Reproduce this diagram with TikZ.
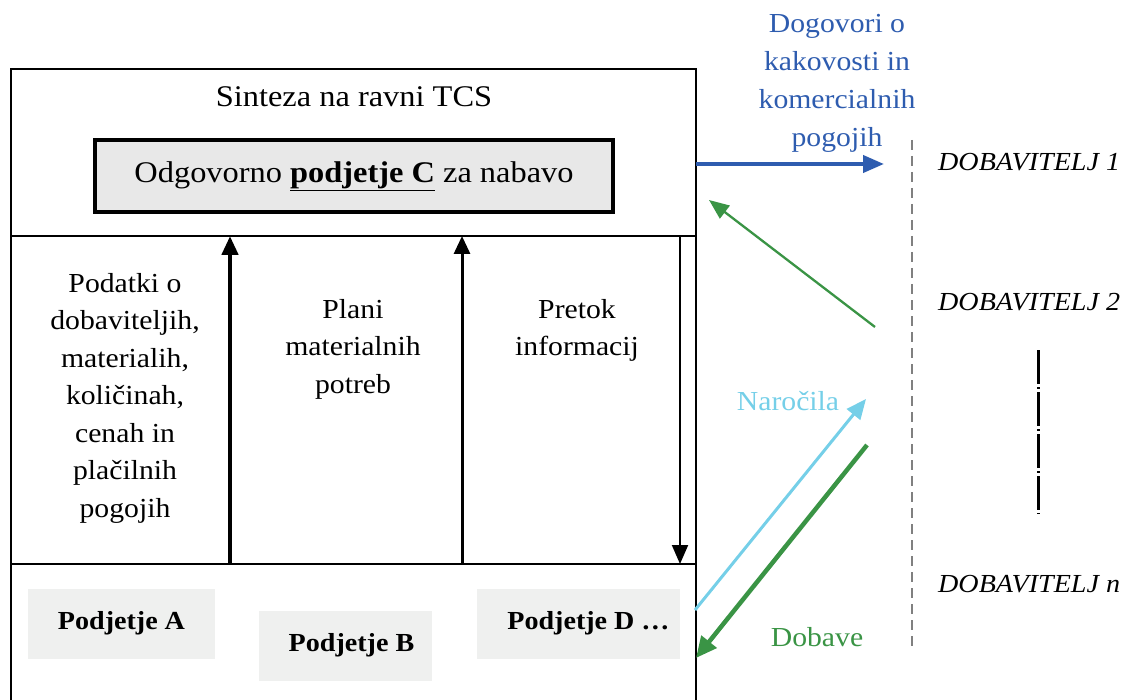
\documentclass[tikz,border=0pt]{standalone}
\usepackage{fontspec}
\setmainfont{Liberation Serif}[FakeStretch=1.08]
\usetikzlibrary{arrows.meta}
\definecolor{dblue}{HTML}{2E5CAF}
\definecolor{lblue}{HTML}{75CFE8}
\definecolor{dgreen}{HTML}{3A9445}
\definecolor{boxgray}{HTML}{E8E8E8}
\definecolor{firmgray}{HTML}{EFF0EF}
\tikzset{
  txt/.style={font=\fontsize{27.5}{37.5}\selectfont, align=center, inner sep=0pt},
  firm/.style={fill=firmgray, draw=none, font=\fontsize{26}{30}\selectfont\bfseries, inner sep=0pt},
  supplier/.style={font=\fontsize{26}{30}\selectfont\itshape, anchor=west, inner sep=0pt},
  frame/.style={line width=2.8pt},
}
\begin{document}
\begin{tikzpicture}[x=1pt,y=-1pt]
\useasboundingbox (0,0) rectangle (1123,700);
% outer frame, open at the bottom
\draw[frame] (11,700) -- (11,69) -- (696,69) -- (696,700);
\draw[frame] (11,236) -- (696,236);
\draw[frame] (11,564) -- (696,564);

% TCS level
\node[txt, font=\fontsize{30}{36}\selectfont] (tcs) at (354,97) {Sinteza na ravni TCS};
\node[draw, line width=3.5pt, fill=boxgray, minimum width=518pt, minimum height=72pt,
      font=\fontsize{30}{36}\selectfont, inner sep=0pt] (unitc) at (354,176)
      {Odgovorno \textbf{\underline{podjetje C}} za nabavo};

% information columns
\node[txt, anchor=north] (data) at (125,273)
  {Podatki o\\dobaviteljih,\\materialih,\\količinah,\\cenah in\\plačilnih\\pogojih};
\node[txt, anchor=north] (plans) at (353,299) {Plani\\materialnih\\potreb};
\node[txt, anchor=north] (flow) at (577,299) {Pretok\\informacij};

\coordinate (a1s) at (230,564); \coordinate (a1e) at (230,236);
\coordinate (a2s) at (462,564); \coordinate (a2e) at (462,236);
\coordinate (a3s) at (680,236); \coordinate (a3e) at (680,564);
\draw[line width=4.5pt, -{Triangle[length=19pt,width=16pt]}] (a1s) -- (a1e);
\draw[line width=3pt, -{Triangle[length=18pt,width=16pt]}] (a2s) -- (a2e);
\draw[line width=2pt, -{Triangle[length=19pt,width=16pt]}] (a3s) -- (a3e);

% companies
\node[firm, minimum width=187pt, minimum height=70pt] (pa) at (121.5,623.5) {Podjetje A};
\node[firm, minimum width=173pt, minimum height=70pt] (pb) at (345.5,645.5) {\hspace*{12pt}Podjetje B};
\node[firm, minimum width=203pt, minimum height=70pt] (pd) at (578.5,623.5) {\hspace*{20pt}Podjetje D …};

% suppliers
\draw[gray, line width=1.2pt, dash pattern=on 10pt off 6pt] (912,140) -- (912,652);
\node[supplier] (s1) at (938,162) {DOBAVITELJ 1};
\node[supplier] (s2) at (938,302) {DOBAVITELJ 2};
\node[supplier] (sn) at (938,584) {DOBAVITELJ \textit{n}};
\draw[line width=3pt, dash pattern=on 34pt off 3pt on 2pt off 3pt] (1038,350) -- (1038,514);

% flows between the company and the suppliers
\coordinate (b1) at (696,164); \coordinate (b2) at (884,164);
\draw[dblue, line width=4pt, -{Triangle[length=21pt,width=17pt]}] (b1) -- (b2);
\node[txt, text=dblue, font=\fontsize{27.5}{38}\selectfont] (agree) at (837,83)
  {Dogovori o\\kakovosti in\\komercialnih\\pogojih};

\coordinate (g1) at (875,327); \coordinate (g2) at (709,200);
\draw[dgreen, line width=2.3pt, -{Triangle[length=20pt,width=16pt]}] (g1) -- (g2);

\coordinate (o1) at (695,610); \coordinate (o2) at (866,399);
\draw[lblue, line width=3pt, -{Triangle[length=20pt,width=17pt]}] (o1) -- (o2);
\node[txt, text=lblue] (orders) at (788,401) {Naročila};

\coordinate (d1) at (867,445); \coordinate (d2) at (696,658);
\draw[dgreen, line width=4.5pt, -{Triangle[length=21pt,width=19pt]}] (d1) -- (d2);
\node[txt, text=dgreen] (deliv) at (817,637) {Dobave};
\end{tikzpicture}
\end{document}
